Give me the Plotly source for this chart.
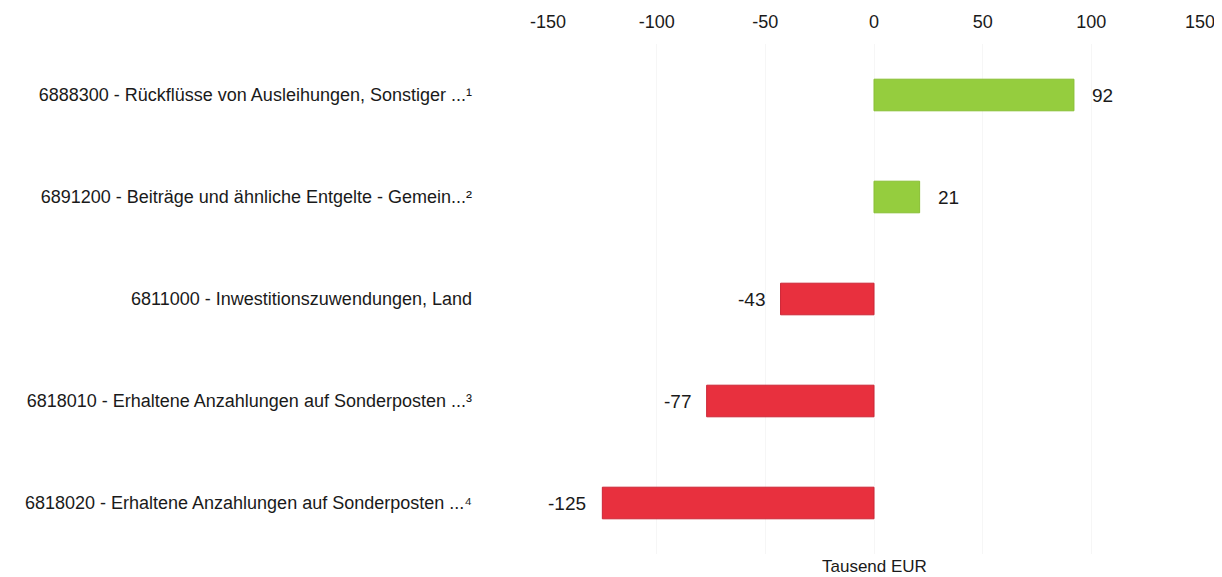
import plotly.graph_objects as go

categories = [
    "6888300 - Rückflüsse von Ausleihungen, Sonstiger ...¹",
    "6891200 - Beiträge und ähnliche Entgelte - Gemein...²",
    "6811000 - Inwestitionszuwendungen, Land",
    "6818010 - Erhaltene Anzahlungen auf Sonderposten ...³",
    "6818020 - Erhaltene Anzahlungen auf Sonderposten ...⁴",
]
values = [92, 21, -43, -77, -125]
tick_vals = [-150, -100, -50, 0, 50, 100, 150]
tick_text = ["-150", "-100", "-50", "0", "50", "100", "150"]
axis_title = "Tausend EUR"

GREEN = "#95cd3e"
RED = "#e8303e"
colors = [GREEN if v >= 0 else RED for v in values]
lines = ["#88bf33" if v >= 0 else "#cc2535" for v in values]

fig = go.Figure()
fig.add_trace(go.Bar(
    x=values, y=categories, orientation="h",
    marker=dict(color=colors, line=dict(color=lines, width=1)),
    width=0.31, hoverinfo="skip",
))

for v, c in zip(values, categories):
    fig.add_annotation(
        x=v, y=c, xref="x", yref="y", text=str(v), showarrow=False,
        xanchor="left" if v >= 0 else "right",
        xshift=16 if v >= 0 else -14,
        font=dict(family="Liberation Sans, Arial", size=19, color="#1a1a1a"),
    )

fig.add_annotation(
    x=0, y=0, xref="x", yref="paper", text=axis_title, showarrow=False,
    yanchor="middle", yshift=-12,
    font=dict(family="Liberation Sans, Arial", size=17, color="#1a1a1a"),
)

fig.update_layout(
    width=1222, height=577,
    margin=dict(l=540, r=30, t=36, b=31),
    paper_bgcolor="white", plot_bgcolor="white",
    showlegend=False,
    font=dict(family="Liberation Sans, Arial", size=17, color="#1a1a1a"),
    xaxis=dict(
        side="top", range=[-150, 150], tickvals=tick_vals, ticktext=tick_text,
        showgrid=True, gridcolor="#f6f6f6", gridwidth=1,
        zeroline=False, showline=False, ticks="", automargin=False,
        tickfont=dict(size=18), ticklabelstandoff=11,
    ),
    yaxis=dict(
        categoryorder="array", categoryarray=categories,
        autorange="reversed", showgrid=False, zeroline=False,
        showline=False, ticks="", tickfont=dict(size=18), automargin=False,
        ticklabelstandoff=75,
    ),
)

fig.write_html("out.html")
